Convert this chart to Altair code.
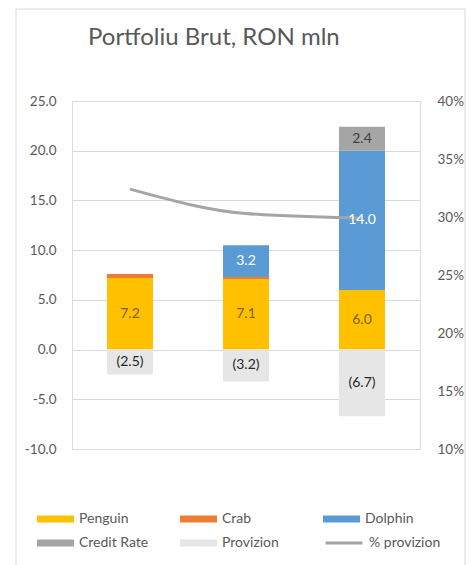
import altair as alt
import pandas as pd

FONT = "Lato"

years = ["2020", "2021", "2022"]
series = ["Penguin", "Crab", "Dolphin", "Credit Rate", "Provizion"]
penguin = [7.2, 7.1, 6.0]
crab = [0.4, 0.2, 0.0]
dolphin = [0.0, 3.2, 14.0]
credit_rate = [0.0, 0.0, 2.4]
provizion = [-2.5, -3.2, -6.7]
pct_provizion = [0.324, 0.303, 0.299]
line_name = ["% provizion"]

bar_colors = ["#FFC000", "#ED7D31", "#5B9BD5", "#A5A5A5", "#E7E6E6"]
label_colors = ["#7F6000", "#404040", "#FFFFFF", "#404040", "#262626"]
y_ticks = [-10, -5, 0, 5, 10, 15, 20, 25]
pct_ticks = [0.10, 0.15, 0.20, 0.25, 0.30, 0.35, 0.40]

values_by_series = [penguin, crab, dolphin, credit_rate, provizion]
rows = []
for i, yr in enumerate(years):
    for j, s in enumerate(series):
        rows.append({"year": yr, "series": s, "value": values_by_series[j][i],
                     "order": j, "tcolor": label_colors[j]})
bars_df = pd.DataFrame(rows)
line_df = pd.DataFrame({"year": years, "pct": pct_provizion, "name": line_name * len(years)})

TXT = "#595959"
GRID = "#D9D9D9"

x_enc = alt.X("year:N", title=None,
              scale=alt.Scale(paddingInner=0, paddingOuter=0),
              axis=alt.Axis(labelAngle=0, offset=-99.43, domainColor=GRID, tickColor=GRID,
                            tickBand="extent", tickSize=5, labelPadding=110,
                            labelFontSize=13.5, labelFont=FONT, labelColor=TXT, grid=False))
x_noaxis = alt.X("year:N", title=None, axis=None,
                 scale=alt.Scale(paddingInner=0, paddingOuter=0))

y_scale = alt.Scale(domain=[-10, 25], nice=False, zero=False)

stacked = alt.Chart(bars_df).transform_stack(
    stack="value", groupby=["year"], as_=["v0", "v1"],
    sort=[alt.SortField("order", "ascending")])

bars = stacked.mark_bar(width=46).encode(
    x=x_enc,
    y=alt.Y("v0:Q", title=None, scale=y_scale,
            axis=alt.Axis(orient="left", values=y_ticks, format=".1f",
                          labelExpr="replace(datum.label, '\u2212', '-')",
                          domain=False, ticks=False,
                          labelPadding=16, labelFontSize=13.5, labelFont=FONT, labelColor=TXT,
                          grid=True, gridColor=GRID)),
    y2="v1:Q",
    color=alt.Color("series:N", scale=alt.Scale(domain=series, range=bar_colors),
                    legend=alt.Legend(orient="none", legendX=-35, legendY=410, columns=3,
                                      direction="horizontal",
                                      title=None, symbolType="M-1,-0.19H1V0.19H-1Z",
                                      symbolSize=1369, symbolStrokeWidth=0,
                                      labelFontSize=14, labelFont=FONT, labelColor=TXT,
                                      labelOffset=5, columnPadding=31, rowPadding=8,
                                      clipHeight=16, gridAlign="all", padding=0)),
    order=alt.Order("order:Q"),
)

labels = stacked.transform_filter(
    "datum.series != 'Crab' && datum.value != 0"
).transform_calculate(
    mid="(datum.v0 + datum.v1) / 2",
    label="datum.value < 0 ? '(' + format(-datum.value, '.1f') + ')' : format(datum.value, '.1f')",
).mark_text(fontSize=14, font=FONT).encode(
    x=x_noaxis,
    y=alt.Y("mid:Q", scale=y_scale, axis=None),
    text="label:N",
    color=alt.Color("tcolor:N", scale=None),
)

line = alt.Chart(line_df).mark_line(interpolate="monotone", strokeWidth=3).encode(
    x=x_noaxis,
    y=alt.Y("pct:Q", title=None, scale=alt.Scale(domain=[0.10, 0.40], nice=False, zero=False),
            axis=alt.Axis(orient="right", values=pct_ticks, format=".0%", domain=False,
                          ticks=False, labelPadding=17, labelFontSize=13.5, labelFont=FONT,
                          labelColor=TXT, grid=False)),
    color=alt.Color("name:N", scale=alt.Scale(range=["#A5A5A5"]),
                    legend=alt.Legend(orient="none", legendX=252, legendY=434, title=None,
                                      symbolType="stroke", symbolSize=1369, symbolStrokeWidth=3,
                                      labelFontSize=14, labelFont=FONT, labelColor=TXT,
                                      labelOffset=5, clipHeight=16, padding=0)),
)

frame = alt.Chart(pd.DataFrame({"f": [0]})).mark_rect(
    fillOpacity=0, stroke=GRID, strokeWidth=1
).encode(x=alt.value(-56), x2=alt.value(393), y=alt.value(-92), y2=alt.value(470))

chart = alt.layer(frame, bars, line, labels).resolve_scale(
    y="independent", color="independent"
).properties(
    width=348, height=348,
    autosize=alt.AutoSizeParams(type="none"),
    padding={"left": 64, "top": 93, "right": 47, "bottom": 116},
    title=alt.Title("Portfoliu Brut, RON mln", fontSize=24, font=FONT, color=TXT,
                    fontWeight="normal", anchor="start", frame="group", dx=16, offset=0,
                    dy=60, baseline="alphabetic"),
).configure_view(stroke="transparent").configure(background="white")

chart.save("out.html", embed_options={"renderer": "svg", "actions": False})
